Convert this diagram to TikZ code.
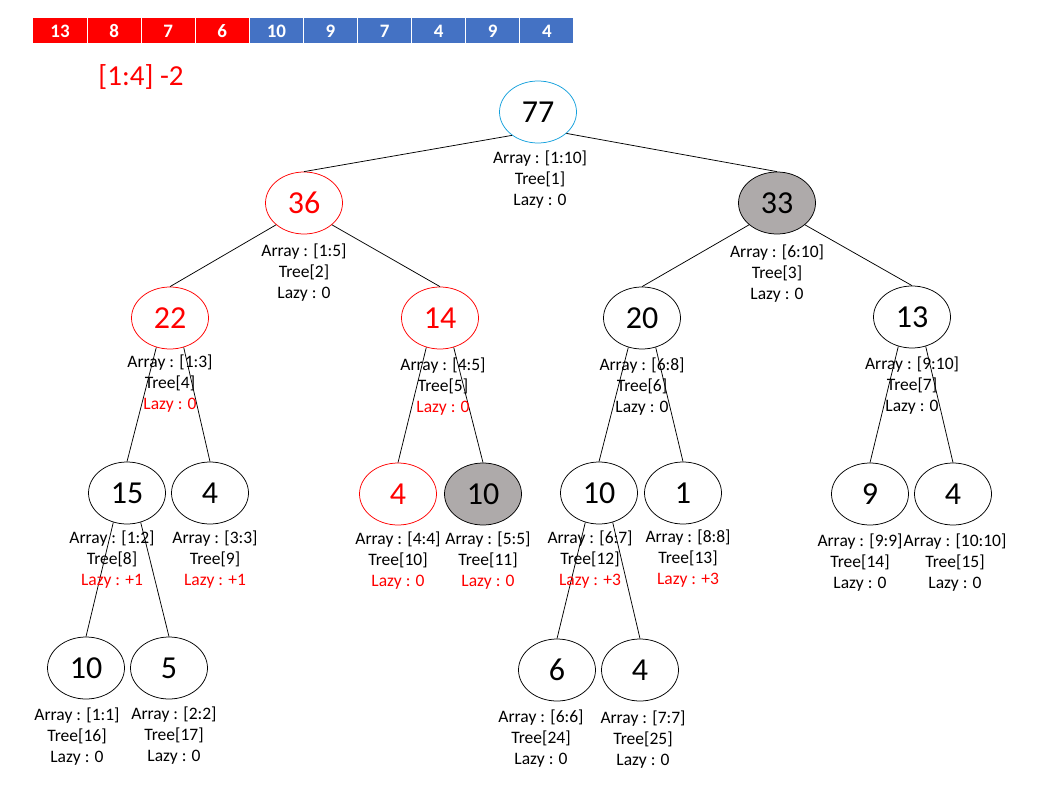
\documentclass[tikz,border=0pt]{standalone}
\usepackage{fontspec}
\setmainfont{Carlito}
\usepackage{xcolor}
\usepackage{tikz}
\usetikzlibrary{positioning,shapes.geometric}
\definecolor{segrojo}{RGB}{255,0,0}
\definecolor{segazul}{RGB}{68,114,196}
\definecolor{seggris}{RGB}{174,170,170}
\definecolor{segcian}{RGB}{20,160,220}

\begin{document}
\begin{tikzpicture}[x=1pt, y=-1pt, line width=0.75pt,
    vtx/.style={ellipse, draw=black, minimum width=77pt, minimum height=62pt, inner sep=0pt, font=\fontsize{32}{36}\selectfont},
    info/.style={align=center, inner sep=0pt, font=\fontsize{17.5}{21}\selectfont},
    cell/.style={rectangle, draw=white, line width=1pt, minimum width=54.1pt, minimum height=26pt, inner sep=0pt, outer sep=0pt, text=white, font=\fontsize{19}{22}\selectfont\bfseries}]
    \useasboundingbox (0,0) rectangle (1043,786);
    % arreglo
    \node[cell,fill=segrojo] (a1) at (60,31) {13};
    \node[cell,fill=segrojo,right=0pt of a1] (a2) {8};
    \node[cell,fill=segrojo,right=0pt of a2] (a3) {7};
    \node[cell,fill=segrojo,right=0pt of a3] (a4) {6};
    \node[cell,fill=segazul,right=0pt of a4] (a5) {10};
    \node[cell,fill=segazul,right=0pt of a5] (a6) {9};
    \node[cell,fill=segazul,right=0pt of a6] (a7) {7};
    \node[cell,fill=segazul,right=0pt of a7] (a8) {4};
    \node[cell,fill=segazul,right=0pt of a8] (a9) {9};
    \node[cell,fill=segazul,right=0pt of a9] (a10) {4};
    \node[text=segrojo,font=\fontsize{29}{32}\selectfont] (upd) at (141,77) {[1:4] -2};
    % nivel 0 y 1
    \node[vtx,draw=segcian] (t1) at (538,112) {77};
    \node[vtx,draw=segrojo,text=segrojo] (t2) at (304,203) {36};
    \node[vtx,fill=seggris] (t3) at (777,203) {33};
    % nivel 2
    \node[vtx,draw=segrojo,text=segrojo] (t4) at (170,318) {22};
    \node[vtx,draw=segrojo,text=segrojo] (t5) at (440,318) {14};
    \node[vtx] (t6) at (642,318) {20};
    \node[vtx] (t7) at (912,317) {13};
    % nivel 3
    \node[vtx] (t8) at (127,493) {15};
    \node[vtx] (t9) at (210,493) {4};
    \node[vtx,draw=segrojo,text=segrojo] (t10) at (398,494) {4};
    \node[vtx,fill=seggris] (t11) at (483,494) {10};
    \node[vtx] (t12) at (599,493) {10};
    \node[vtx] (t13) at (683,493) {1};
    \node[vtx] (t14) at (870,494) {9};
    \node[vtx] (t15) at (953,494) {4};
    % nivel 4
    \node[vtx] (t16) at (86,668) {10};
    \node[vtx] (t17) at (169,668) {5};
    \node[vtx] (t24) at (557,670) {6};
    \node[vtx] (t25) at (640,670) {4};
    % aristas
    \draw (t1.222) -- (t2.north); \draw (t1.323) -- (t3.north);
    \draw (t2.218) -- (t4.north); \draw (t2.322) -- (t5.north);
    \draw (t3.218) -- (t6.north); \draw (t3.322) -- (t7.north);
    \draw (t4.245) -- (t8.north); \draw (t4.295) -- (t9.north);
    \draw (t5.245) -- (t10.north); \draw (t5.295) -- (t11.north);
    \draw (t6.245) -- (t12.north); \draw (t6.295) -- (t13.north);
    \draw (t7.245) -- (t14.north); \draw (t7.295) -- (t15.north);
    \draw (t8.245) -- (t16.north); \draw (t8.295) -- (t17.north);
    \draw (t12.245) -- (t24.north); \draw (t12.295) -- (t25.north);
    % etiquetas
    \node[info,below=7pt of t1,xshift=2pt] (l1) {Array : [1:10]\\Tree[1]\\Lazy : 0};
    \node[info,below=9pt of t2] (l2) {Array : [1:5]\\Tree[2]\\Lazy : 0};
    \node[info,below=10pt of t3] (l3) {Array : [6:10]\\Tree[3]\\Lazy : 0};
    \node[info,below=5pt of t4] (l4) {Array : [1:3]\\Tree[4]\\\textcolor{segrojo}{Lazy : 0}};
    \node[info,below=8pt of t5,xshift=3pt] (l5) {Array : [4:5]\\Tree[5]\\\textcolor{segrojo}{Lazy : 0}};
    \node[info,below=8pt of t6] (l6) {Array : [6:8]\\Tree[6]\\Lazy : 0};
    \node[info,below=8pt of t7] (l7) {Array : [9:10]\\Tree[7]\\Lazy : 0};
    \node[info,below=6pt of t8,xshift=-15pt] (l8) {Array : [1:2]\\Tree[8]\\\textcolor{segrojo}{Lazy : +1}};
    \node[info,below=6pt of t9,xshift=5pt] (l9) {Array : [3:3]\\Tree[9]\\\textcolor{segrojo}{Lazy : +1}};
    \node[info,below=6pt of t10] (l10) {Array : [4:4]\\Tree[10]\\\textcolor{segrojo}{Lazy : 0}};
    \node[info,below=6pt of t11,xshift=5pt] (l11) {Array : [5:5]\\Tree[11]\\\textcolor{segrojo}{Lazy : 0}};
    \node[info,below=6pt of t12,xshift=-9pt] (l12) {Array : [6:7]\\Tree[12]\\\textcolor{segrojo}{Lazy : +3}};
    \node[info,below=5pt of t13,xshift=5pt] (l13) {Array : [8:8]\\Tree[13]\\\textcolor{segrojo}{Lazy : +3}};
    \node[info,below=8pt of t14,xshift=-10pt] (l14) {Array : [9:9]\\Tree[14]\\Lazy : 0};
    \node[info,below=8pt of t15,xshift=2pt] (l15) {Array : [10:10]\\Tree[15]\\Lazy : 0};
    \node[info,below=8pt of t16,xshift=-9pt] (l16) {Array : [1:1]\\Tree[16]\\Lazy : 0};
    \node[info,below=7pt of t17,xshift=5pt] (l17) {Array : [2:2]\\Tree[17]\\Lazy : 0};
    \node[info,below=8pt of t24,xshift=-16pt] (l24) {Array : [6:6]\\Tree[24]\\Lazy : 0};
    \node[info,below=9pt of t25,xshift=3pt] (l25) {Array : [7:7]\\Tree[25]\\Lazy : 0};
\end{tikzpicture}
\end{document}
